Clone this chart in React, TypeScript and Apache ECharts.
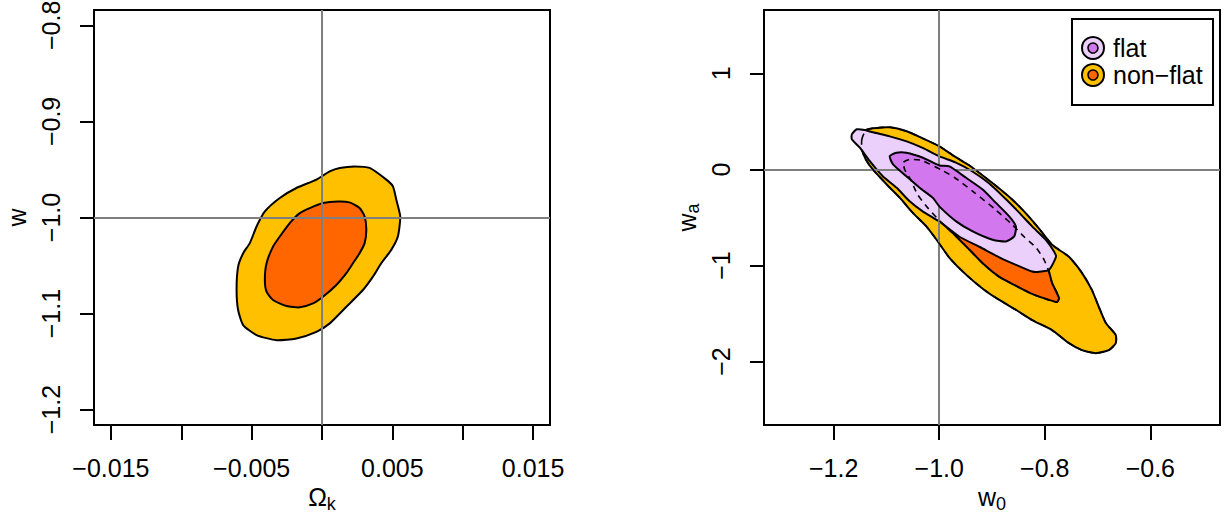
import React, { useEffect, useRef } from 'react';
import * as echarts from 'echarts';

const FONT = "'Liberation Sans', Arial, Helvetica, sans-serif";
const MINUS = '\u2212';

const C_NONFLAT95 = '#FFC000';
const C_NONFLAT68 = '#FF6600';
const C_FLAT95 = '#ECD0FC';
const C_FLAT68 = '#D277EE';
const C_REF = '#7F7F7F';

// axes
const leftXTicks = [-0.015, -0.01, -0.005, 0, 0.005, 0.01, 0.015];
const leftXLabels = [-0.015, -0.005, 0.005, 0.015];
const leftYTicks = [-1.2, -1.1, -1.0, -0.9, -0.8];
const rightXTicks = [-1.2, -1.0, -0.8, -0.6];
const rightYTicks = [-2, -1, 0, 1];
const leftRange = { xmin: -0.0162, xmax: 0.0162, ymin: -1.216, ymax: -0.784 };
const rightRange = { xmin: -1.332, xmax: -0.468, ymin: -2.66, ymax: 1.66 };
const leftRef = { x: 0, y: -1 };
const rightRef = { x: -1, y: 0 };

const legendNames = ['flat', 'non\u2212flat'];

// Left panel: Omega_k vs w (non-flat model)
const leftNonflat95: number[][] = [
  [0.00232, -0.9468], [0.00338, -0.9484], [0.00457, -0.9606], [0.00504, -0.9676],
  [0.00528, -0.9815], [0.00556, -0.999], [0.00539, -1.0198], [0.00492, -1.0337],
  [0.00421, -1.0476], [0.00362, -1.0616], [0.00291, -1.0755], [0.00173, -1.0929],
  [0.00055, -1.1102], [-0.0004, -1.119], [-0.00182, -1.1259], [-0.00323, -1.1277],
  [-0.00465, -1.1224], [-0.0056, -1.112], [-0.00596, -1.0963], [-0.00607, -1.0755],
  [-0.00596, -1.0511], [-0.0056, -1.0372], [-0.00513, -1.0267], [-0.00465, -1.0094],
  [-0.00406, -0.9937], [-0.003, -0.9797], [-0.00182, -0.9693], [-0.0004, -0.9606],
  [0.00055, -0.952], [0.00126, -0.9484],
];
const leftNonflat68: number[][] = [
  [0.00113, -0.9833], [0.00196, -0.9843], [0.00267, -0.9902], [0.00303, -0.999],
  [0.00315, -1.0128], [0.00303, -1.0267], [0.00267, -1.0372], [0.0022, -1.0476],
  [0.00173, -1.058], [0.00102, -1.0703], [0.00007, -1.0825], [-0.00064, -1.0894],
  [-0.00158, -1.0935], [-0.00252, -1.0922], [-0.00348, -1.0859], [-0.00394, -1.0772],
  [-0.00406, -1.065], [-0.00394, -1.0476], [-0.00348, -1.0303], [-0.003, -1.0198],
  [-0.00229, -1.0058], [-0.00158, -0.9954], [-0.00087, -0.9902], [0.00007, -0.985],
];

// Right panel: w0 vs wa
const rightNonflat95: number[][] = [
  [-1.1466, 0.3135], [-1.1391, 0.4075], [-1.1258, 0.4284], [-1.0938, 0.4389],
  [-1.0617, 0.3971], [-1.0315, 0.3239], [-0.9994, 0.2403], [-0.9711, 0.1358],
  [-0.9428, 0.0418], [-0.9126, -0.0836], [-0.8862, -0.1986], [-0.8617, -0.3135],
  [-0.8353, -0.4598], [-0.8108, -0.6165], [-0.7862, -0.7837], [-0.773, -0.8359],
  [-0.7542, -0.9091], [-0.7296, -1.0763], [-0.7108, -1.2539], [-0.6975, -1.4316],
  [-0.6843, -1.5987], [-0.6655, -1.7241], [-0.6655, -1.8077], [-0.6787, -1.8809],
  [-0.7032, -1.9122], [-0.7296, -1.8809], [-0.7542, -1.8077], [-0.7862, -1.6719],
  [-0.824, -1.5674], [-0.8542, -1.4629], [-0.8862, -1.3584], [-0.9145, -1.2539],
  [-0.9466, -1.1076], [-0.9806, -0.9195], [-1.0051, -0.7315], [-1.024, -0.5956],
  [-1.0504, -0.4493], [-1.0749, -0.2926], [-1.0994, -0.1567], [-1.1258, 0.0],
  [-1.1391, 0.1045], [-1.1466, 0.209],
];
const rightNonflat68: number[][] = [
  [-1.0674, 0.0731], [-1.056, 0.1045], [-1.0334, 0.094], [-0.9938, -0.0104],
  [-0.9711, -0.0836], [-0.9334, -0.2403], [-0.8957, -0.4075], [-0.8636, -0.5643],
  [-0.8391, -0.7001], [-0.8164, -0.815], [-0.8013, -0.9404], [-0.7919, -1.0658],
  [-0.7862, -1.1808], [-0.773, -1.3375], [-0.7768, -1.3793], [-0.7919, -1.3584],
  [-0.824, -1.2957], [-0.8542, -1.2121], [-0.8862, -1.1181], [-0.9145, -0.9927],
  [-0.9428, -0.8359], [-0.9711, -0.6792], [-0.9994, -0.5329], [-1.0221, -0.3971],
  [-1.041, -0.2612], [-1.0542, -0.1045], [-1.0655, 0.0],
];
const rightFlat95: number[][] = [
  [-1.1655, 0.3657], [-1.1561, 0.418], [-1.141, 0.4107], [-1.1258, 0.3866],
  [-1.0938, 0.3448], [-1.0617, 0.2926], [-1.0315, 0.2247], [-0.9994, 0.1358],
  [-0.9692, 0.0731], [-0.9372, -0.0209], [-0.9051, -0.1463], [-0.8749, -0.303],
  [-0.8485, -0.4493], [-0.824, -0.5925], [-0.7981, -0.7315], [-0.7825, -0.8537],
  [-0.7787, -0.9091], [-0.7919, -1.0449], [-0.8108, -1.0658], [-0.824, -1.0627],
  [-0.8547, -0.9927], [-0.8862, -0.9143], [-0.924, -0.8046], [-0.9617, -0.7001],
  [-0.9994, -0.5434], [-1.0315, -0.4357], [-1.056, -0.3312], [-1.0806, -0.1912],
  [-1.107, -0.07], [-1.1315, 0.0867], [-1.1504, 0.2267], [-1.1655, 0.3135],
];
const rightFlat68: number[][] = [
  [-1.0938, 0.139], [-1.0811, 0.1745], [-1.0623, 0.1745], [-1.0309, 0.1223],
  [-0.9994, 0.0418], [-0.9806, 0.0313], [-0.9491, -0.0867], [-0.9177, -0.209],
  [-0.8925, -0.348], [-0.8674, -0.488], [-0.8547, -0.5925], [-0.8579, -0.697],
  [-0.8736, -0.7492], [-0.8989, -0.7315], [-0.9366, -0.6447], [-0.9679, -0.5402],
  [-0.9994, -0.3866], [-1.0121, -0.2957], [-1.0372, -0.1912], [-1.0623, -0.07],
  [-1.0875, 0.0522],
];

function fmt(v: number, d: number): string {
  const s = Math.abs(v) < 1e-12 ? (0).toFixed(d) : v.toFixed(d);
  return s.replace('-', MINUS);
}

const nameRich = {
  m: { fontSize: 25, fontFamily: FONT, color: '#000', lineHeight: 28, verticalAlign: 'top' },
  s: { fontSize: 18, fontFamily: FONT, color: '#000', lineHeight: 14, verticalAlign: 'bottom' },
};

function makeXAxis(gi: number, r: any, ticks: number[], labels: number[], dec: number, name: string) {
  return {
    type: 'value', gridIndex: gi, min: r.xmin, max: r.xmax, position: 'bottom',
    axisLine: { show: false, onZero: false }, splitLine: { show: false },
    axisTick: { show: true, inside: false, length: 15, lineStyle: { color: '#000', width: 2 }, customValues: ticks },
    axisLabel: {
      show: true, margin: 30, customValues: labels, formatter: (v: number) => fmt(v, dec),
      fontSize: 25, fontFamily: FONT, color: '#000',
    },
    name, nameLocation: 'middle', nameGap: 59,
    nameTextStyle: { rich: nameRich },
  };
}

function makeYAxis(gi: number, r: any, ticks: number[], dec: number, name: string) {
  return {
    type: 'value', gridIndex: gi, min: r.ymin, max: r.ymax, position: 'left',
    axisLine: { show: false, onZero: false }, splitLine: { show: false },
    axisTick: { show: true, inside: false, length: 14, lineStyle: { color: '#000', width: 2 }, customValues: ticks },
    axisLabel: {
      show: true, margin: 31, rotate: 90, customValues: ticks, formatter: (v: number) => fmt(v, dec),
      fontSize: 25, fontFamily: FONT, color: '#000',
    },
    name, nameLocation: 'middle', nameGap: 62, nameRotate: 90,
    nameTextStyle: { rich: nameRich },
  };
}

function contour(idx: number, pts: number[][], fill: string | null, dashed: boolean, z: number) {
  return {
    type: 'custom', xAxisIndex: idx, yAxisIndex: idx, z, silent: true,
    data: pts, encode: { x: 0, y: 1 },
    renderItem: (params: any, api: any) => {
      if (params.dataIndex !== 0) return null;
      const points = pts.map((p) => api.coord(p));
      return {
        type: 'polygon',
        shape: { points, smooth: 0.2 },
        style: {
          fill: fill ?? 'none', stroke: '#000',
          lineWidth: dashed ? 1.6 : 2, lineDash: dashed ? [6, 5] : null,
        },
      };
    },
  };
}

function refLines(idx: number, ref: { x: number; y: number }) {
  return {
    type: 'line', xAxisIndex: idx, yAxisIndex: idx, z: 20, data: [], silent: true,
    markLine: {
      silent: true, symbol: ['none', 'none'], label: { show: false },
      lineStyle: { color: C_REF, width: 2, type: 'solid' },
      emphasis: { disabled: true },
      data: [{ xAxis: ref.x }, { yAxis: ref.y }],
    },
  };
}

export default function App() {
  const ref = useRef<HTMLDivElement>(null);
  useEffect(() => {
    if (!ref.current) return;
    const chart = echarts.init(ref.current, null, { renderer: 'svg' });
    const gridBase = { top: 10, height: 415, width: 456, show: true, borderColor: '#000', borderWidth: 2, backgroundColor: '#fff', containLabel: false, outerBoundsMode: 'none' };
    chart.setOption({
      animation: false,
      backgroundColor: '#fff',
      textStyle: { fontFamily: FONT },
      grid: [{ ...gridBase, left: 94 }, { ...gridBase, left: 764 }],
      xAxis: [
        makeXAxis(0, leftRange, leftXTicks, leftXLabels, 3, '{m|\u03A9}{s|k}'),
        makeXAxis(1, rightRange, rightXTicks, rightXTicks, 1, '{m|w}{s|0}'),
      ],
      yAxis: [
        makeYAxis(0, leftRange, leftYTicks, 1, '{m|w}'),
        makeYAxis(1, rightRange, rightYTicks, 0, '{m|w}{s|a}'),
      ],
      series: [
        contour(0, leftNonflat95, C_NONFLAT95, false, 2),
        contour(0, leftNonflat68, C_NONFLAT68, false, 3),
        refLines(0, leftRef),
        contour(1, rightNonflat95, C_NONFLAT95, false, 2),
        contour(1, rightNonflat68, C_NONFLAT68, false, 3),
        contour(1, rightFlat95, C_FLAT95, false, 4),
        contour(1, rightFlat68, C_FLAT68, false, 5),
        contour(1, rightNonflat95, null, true, 6),
        contour(1, rightNonflat68, null, true, 6),
        refLines(1, rightRef),
      ],
      graphic: [
        {
          type: 'group', z: 100,
          children: [
            { type: 'rect', shape: { x: 1072, y: 19, width: 141, height: 86 }, style: { fill: '#fff', stroke: '#000', lineWidth: 2 } },
            { type: 'circle', shape: { cx: 1093, cy: 48, r: 11 }, style: { fill: C_FLAT95, stroke: '#000', lineWidth: 2 } },
            { type: 'circle', shape: { cx: 1093, cy: 48, r: 5 }, style: { fill: C_FLAT68, stroke: '#000', lineWidth: 1.6 } },
            { type: 'circle', shape: { cx: 1093, cy: 75, r: 11 }, style: { fill: C_NONFLAT95, stroke: '#000', lineWidth: 2 } },
            { type: 'circle', shape: { cx: 1093, cy: 75, r: 5 }, style: { fill: C_NONFLAT68, stroke: '#000', lineWidth: 1.6 } },
            { type: 'text', x: 1113, y: 48, style: { text: legendNames[0], fontSize: 25, fontFamily: FONT, fill: '#000', verticalAlign: 'middle', align: 'left' } },
            { type: 'text', x: 1113, y: 75, style: { text: legendNames[1], fontSize: 25, fontFamily: FONT, fill: '#000', verticalAlign: 'middle', align: 'left' } },
          ],
        },
      ],
    });
    return () => chart.dispose();
  }, []);
  return <div ref={ref} style={{ position: 'absolute', left: 0, top: 0, width: 1227, height: 516 }} />;
}
